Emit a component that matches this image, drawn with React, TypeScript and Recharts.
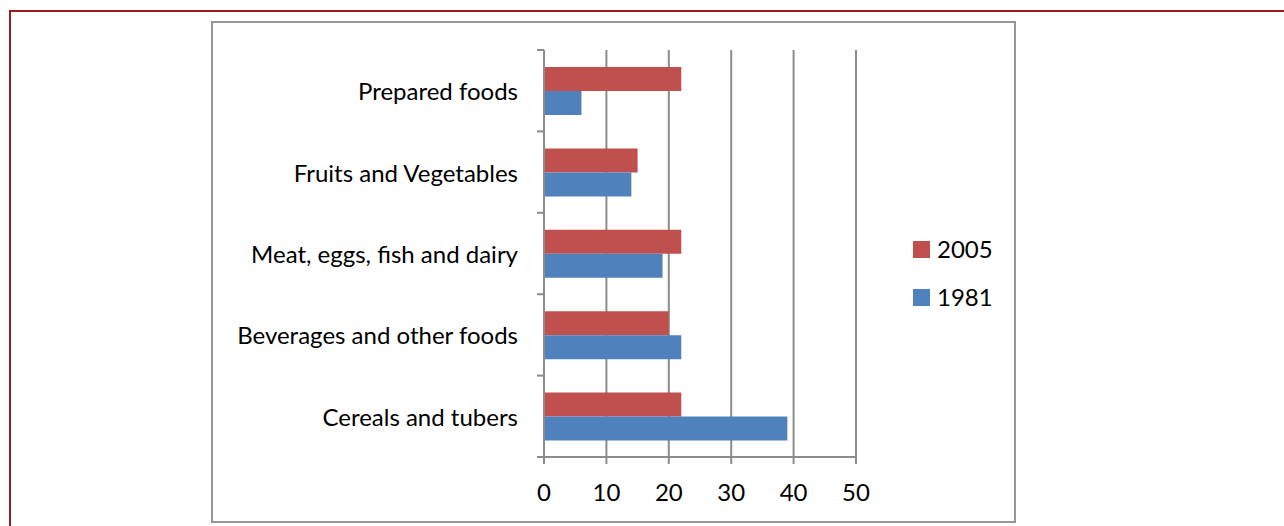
import React from 'react';
import { BarChart, Bar, XAxis, YAxis, CartesianGrid, Legend } from 'recharts';

const categories = [
  'Prepared foods',
  'Fruits and Vegetables',
  'Meat, eggs, fish and dairy',
  'Beverages and other foods',
  'Cereals and tubers',
];
const values2005 = [22, 15, 22, 20, 22];
const values1981 = [6, 14, 19, 22, 39];
const seriesNames = ['2005', '1981'];
const xTicks = [0, 10, 20, 30, 40, 50];

const rows = categories.map((name, i) => ({
  name,
  y2005: values2005[i],
  y1981: values1981[i],
}));

const FONT = 'Lato, "Noto Sans", sans-serif';
const GRID = '#8c8c8c';
const LABEL_GAP = 26;
const TICK_LEN = 7;

// category label plus the boundary tick marks Excel draws between bands
function CategoryTick({ x, y, payload, index, visibleTicksCount }: any) {
  const half = payload?.offset ?? 0;
  const axisX = x + LABEL_GAP;
  const last = index === visibleTicksCount - 1;
  return (
    <g>
      <line x1={axisX - TICK_LEN} x2={axisX} y1={y - half} y2={y - half} stroke={GRID} strokeWidth={2} />
      {last && <line x1={axisX - TICK_LEN} x2={axisX} y1={y + half} y2={y + half} stroke={GRID} strokeWidth={2} />}
      <text x={x} y={y} textAnchor="end" dominantBaseline="central" fill="#000" fontSize={24} fontFamily={FONT}>
        {payload.value}
      </text>
    </g>
  );
}

function LegendBox({ payload }: any) {
  const items = [...(payload || [])].sort(
    (a: any, b: any) => seriesNames.indexOf(String(a.value)) - seriesNames.indexOf(String(b.value))
  );
  return (
    <div style={{ width: 100 }}>
      {items.map((item: any) => (
        <div key={item.value} style={{ display: 'flex', alignItems: 'center', height: 48 }}>
          <span style={{ display: 'inline-block', width: 17, height: 17, background: item.color, marginRight: 7 }} />
          <span style={{ fontSize: 24, fontFamily: FONT, color: '#000', lineHeight: 1 }}>{item.value}</span>
        </div>
      ))}
    </div>
  );
}

export default function App() {
  return (
    <div style={{ position: 'fixed', left: 0, top: 0, width: 1284, height: 526, overflow: 'hidden', background: '#fff' }}>
      <div style={{
        position: 'absolute', left: 9, top: 10, width: 1400, height: 700,
        borderTop: '2px solid #9b1b1b', borderLeft: '2px solid #9b1b1b',
      }} />
      <div style={{
        position: 'absolute', left: 211, top: 21, width: 805, height: 502,
        border: '2px solid #969696', boxSizing: 'border-box',
      }} />
      <div style={{ position: 'absolute', left: 211, top: 21 }}>
        <BarChart
          width={805}
          height={502}
          data={rows}
          layout="vertical"
          margin={{ top: 29, right: 60, bottom: 0, left: 0 }}
          barGap={0}
          barSize={24}
        >
          <CartesianGrid horizontal={false} stroke={GRID} strokeWidth={2} />
          <XAxis
            type="number"
            domain={[0, 50]}
            ticks={xTicks}
            height={66}
            axisLine={{ stroke: GRID, strokeWidth: 2 }}
            tickLine={{ stroke: GRID, strokeWidth: 2 }}
            tickSize={TICK_LEN}
            tickMargin={20}
            tick={{ fill: '#000', fontSize: 24, fontFamily: FONT }}
          />
          <YAxis
            type="category"
            dataKey="name"
            width={333}
            axisLine={{ stroke: GRID, strokeWidth: 2 }}
            tickLine={false}
            tickSize={0}
            tickMargin={LABEL_GAP}
            interval={0}
            tick={<CategoryTick />}
          />
          <Legend
            layout="vertical"
            align="right"
            verticalAlign="middle"
            content={<LegendBox />}
            wrapperStyle={{ left: 702, top: 204, right: 'auto', width: 100 }}
          />
          <Bar dataKey="y2005" name="2005" fill="#C0504D" isAnimationActive={false} />
          <Bar dataKey="y1981" name="1981" fill="#4F81BD" isAnimationActive={false} />
        </BarChart>
      </div>
    </div>
  );
}
